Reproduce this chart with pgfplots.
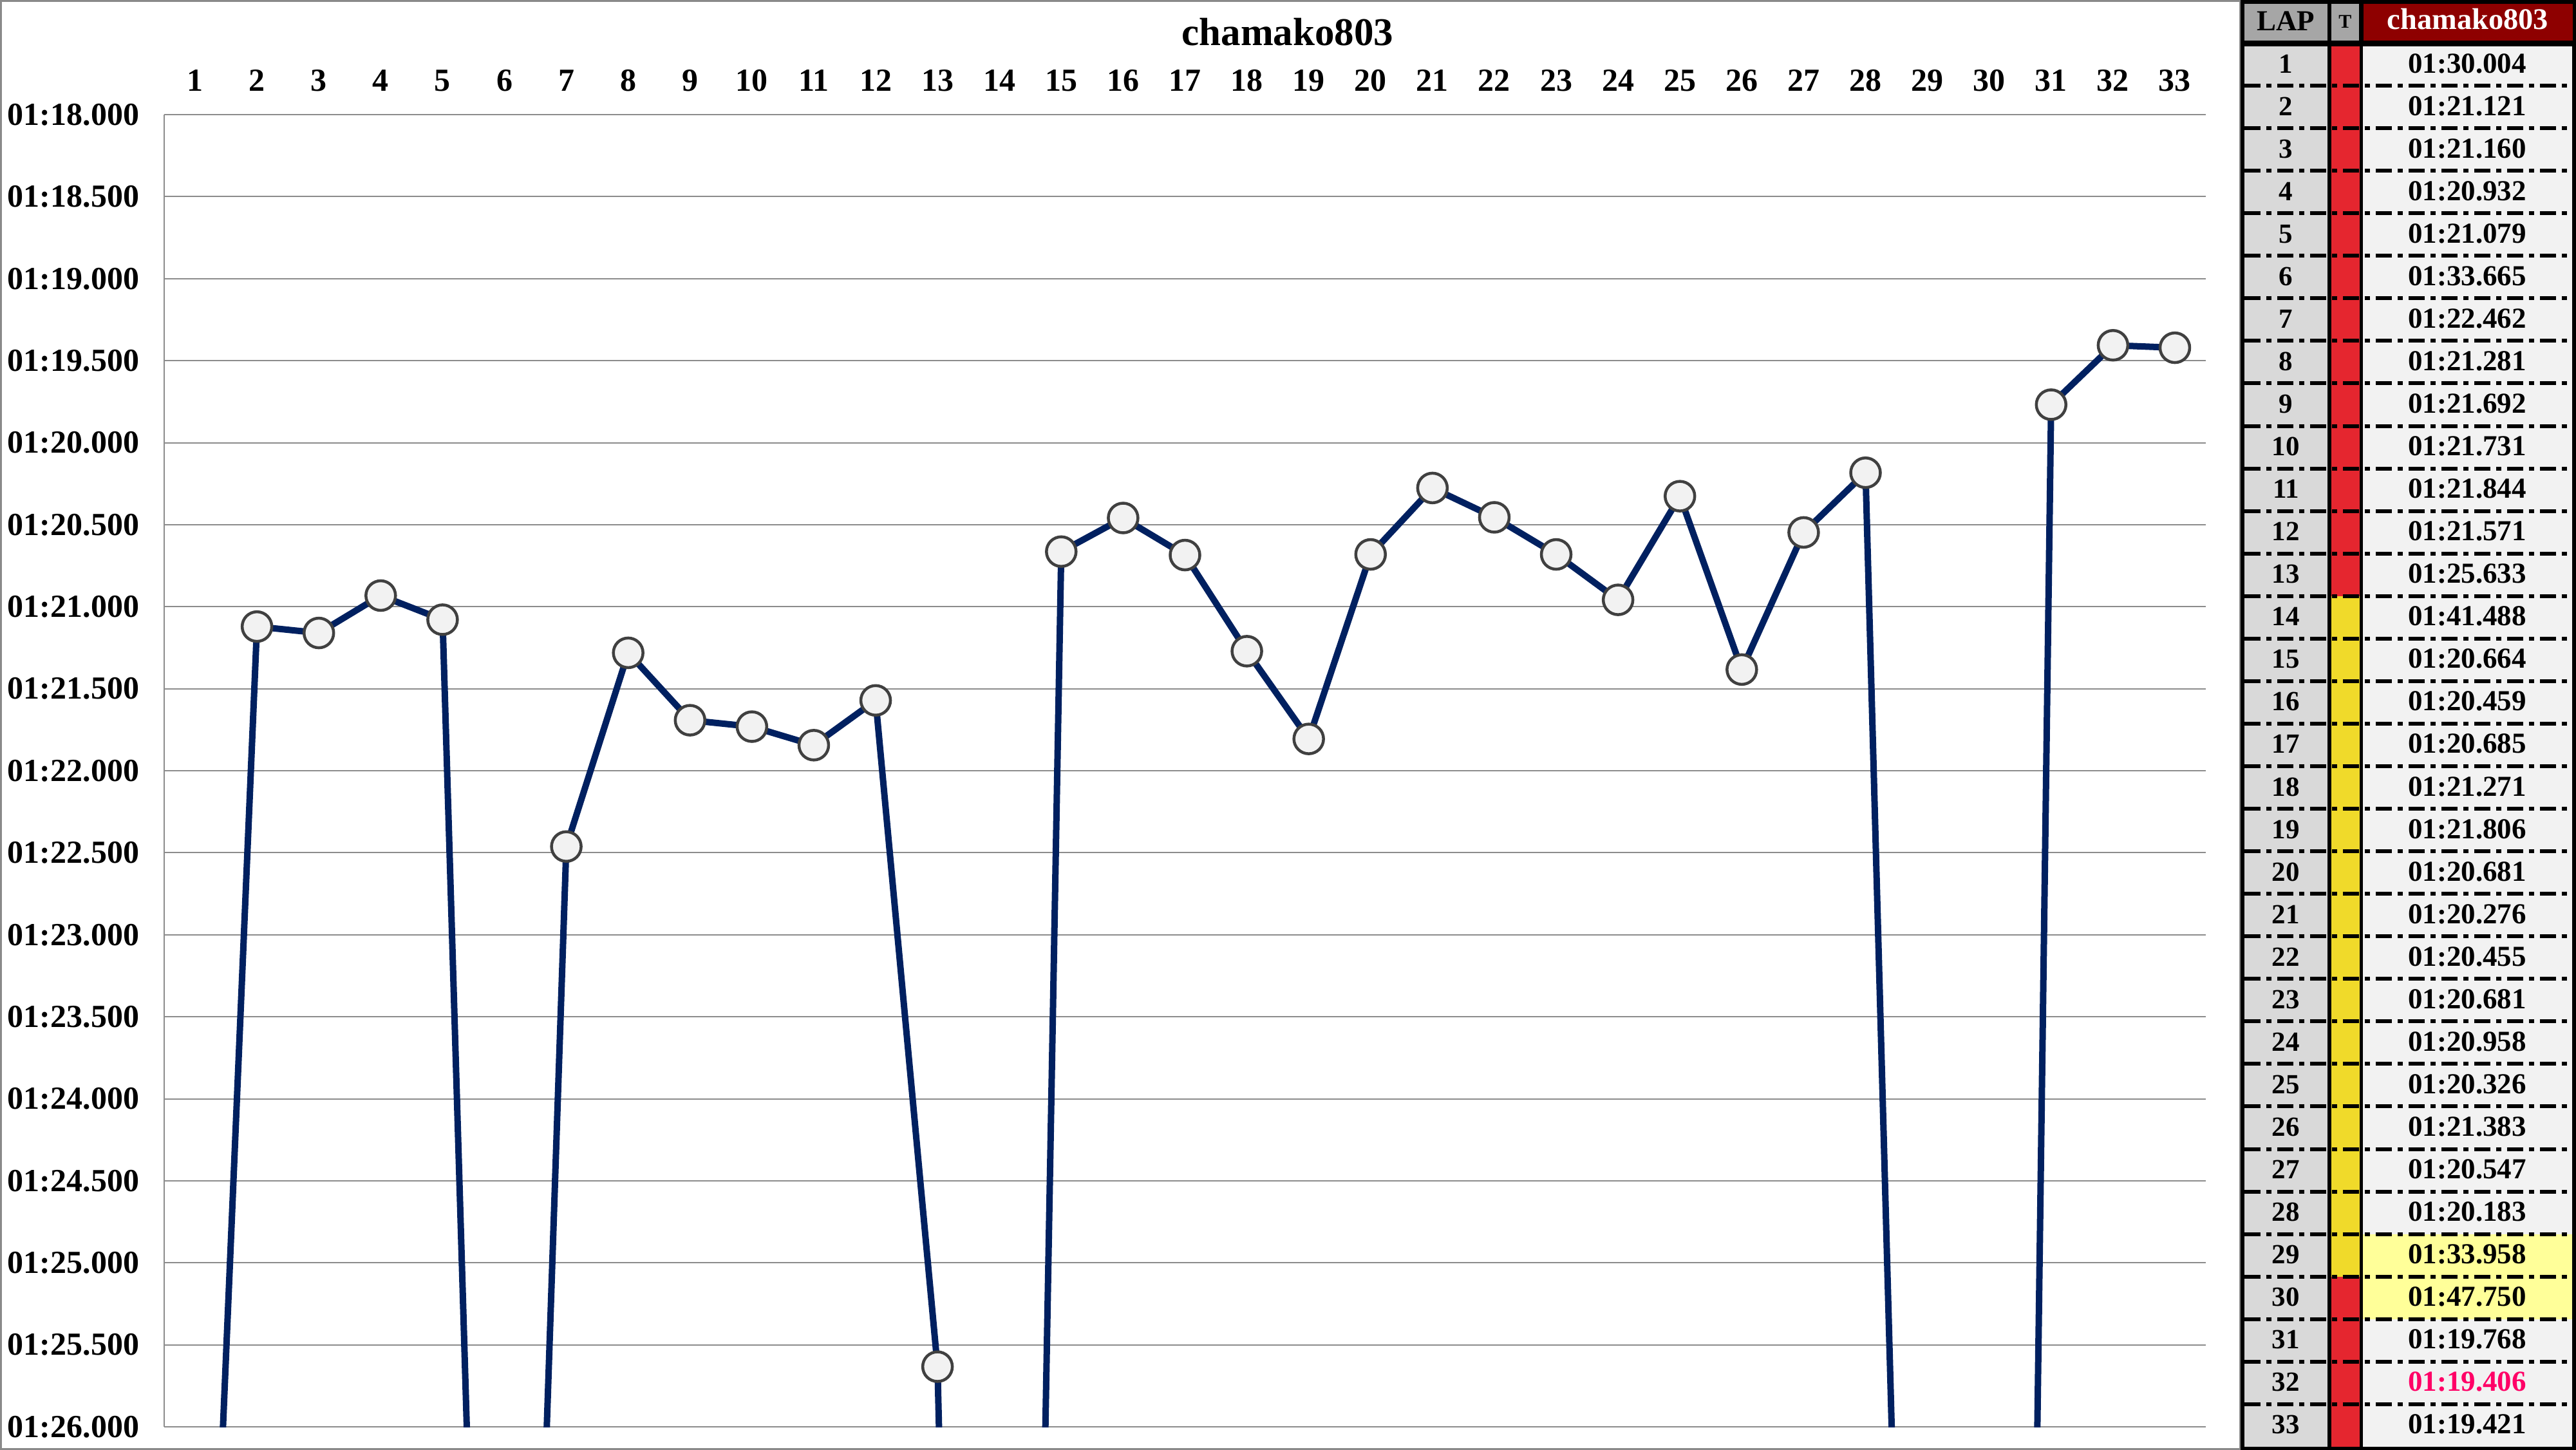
\documentclass[border=0pt]{standalone}
\usepackage{fontspec}
\setmainfont{Liberation Serif}
\usepackage{pgfplots}
\pgfplotsset{compat=1.18}

\definecolor{navy}{HTML}{002060}
\definecolor{markedge}{HTML}{404040}
\definecolor{markfill}{HTML}{F2F2F2}
\definecolor{gridgray}{HTML}{8C8C8C}
\definecolor{chartborder}{HTML}{8A8A8A}
\definecolor{hdrgray}{HTML}{A6A6A6}
\definecolor{hdrred}{HTML}{8E0000}
\definecolor{lapcell}{HTML}{D9D9D9}
\definecolor{namecell}{HTML}{F2F2F2}
\definecolor{tred}{HTML}{E5262F}
\definecolor{tyellow}{HTML}{F0DA2A}
\definecolor{hiyellow}{HTML}{FFFF99}
\definecolor{fastpink}{HTML}{FF0066}

% lap times in seconds
\pgfplotstableread{
lap  t
1    90.004
2    81.121
3    81.160
4    80.932
5    81.079
6    93.665
7    82.462
8    81.281
9    81.692
10   81.731
11   81.844
12   81.571
13   85.633
14   101.488
15   80.664
16   80.459
17   80.685
18   81.271
19   81.806
20   80.681
21   80.276
22   80.455
23   80.681
24   80.958
25   80.326
26   81.383
27   80.547
28   80.183
29   93.958
30   107.750
31   79.768
32   79.406
33   79.421
}\laps

\newcommand{\fs}[1]{\bfseries\fontsize{#1}{#1}\selectfont}

\begin{document}
\begin{tikzpicture}
\useasboundingbox (0,0) rectangle (800.2bp,-450.4bp);

% chart area (units: pixels of the reference)
\begin{scope}[x=0.2bp,y=-0.2bp]
  \fill[white] (0,0) rectangle (4001,2252);
  \draw[chartborder, line width=0.6bp] (1.5,1.5) rectangle (3480,2250.5);
  \node[font=\fs{12.2bp}, anchor=base, inner sep=0pt] at (2000,70) {chamako803};
\end{scope}

\begin{axis}[
    at={(51bp,-443.2bp)}, anchor=south west,
    scale only axis, width=634.2bp, height=407.6bp,
    xmin=0.5, xmax=33.5,
    ymin=78, ymax=86,
    y dir=reverse,
    xtick={1,...,33},
    xticklabel pos=right,
    ytick={78,78.5,...,86},
    yticklabels={01:18.000,01:18.500,01:19.000,01:19.500,01:20.000,01:20.500,
      01:21.000,01:21.500,01:22.000,01:22.500,01:23.000,01:23.500,01:24.000,
      01:24.500,01:25.000,01:25.500,01:26.000},
    /pgf/number format/assume math mode=true,
    tick label style={font=\fs{10bp}},
    xticklabel style={anchor=base, inner sep=0pt, yshift=7.4bp},
    yticklabel style={anchor=east, inner sep=0pt, xshift=-7.6bp},
    major tick length=0pt,
    axis y line*=left,
    separate axis lines,
    x axis line style={draw=none},
    y axis line style={gridgray, line width=0.4bp},
    ymajorgrids=true,
    grid style={gridgray, line width=0.4bp},
]
\addplot[navy, line width=2bp, mark=*, mark size=4.6bp,
  mark options={draw=markedge, fill=markfill, line width=0.9bp}]
  table[x=lap, y=t] {\laps};
\end{axis}

% lap table on the right
\begin{scope}[x=0.2bp,y=-0.2bp]
  \fill[black] (3480,0) rectangle (4001,2252);
  \fill[hdrgray] (3486,6) rectangle (3615,63);
  \fill[hdrgray] (3621,6) rectangle (3664,63);
  \fill[hdrred] (3671,6) rectangle (3996,63);
  \node[font=\fs{9bp}, anchor=base, inner sep=0pt] at (3550.5,47) {LAP};
  \node[font=\fs{6bp}, anchor=base, inner sep=0pt] at (3642.5,43) {T};
  \node[font=\fs{9.3bp}, text=white, anchor=base, inner sep=0pt] at (3833,45) {chamako803};

  \fill[lapcell] (3486,72) rectangle (3615,2247);
  \fill[tred] (3621,72) rectangle (3665,925.8);
  \fill[tyellow] (3621,925.8) rectangle (3665,1982.7);
  \fill[tred] (3621,1982.7) rectangle (3665,2247);
  \fill[namecell] (3670,72) rectangle (3995,2247);
  \fill[hiyellow] (3670,1916.7) rectangle (3995,2048.8);

  \foreach \k in {1,...,32}
    \draw[black, line width=1.2bp, dash pattern=on 5bp off 1.8bp on 1.6bp off 1.8bp]
      (3486,{67+66.06*\k}) -- (3995,{67+66.06*\k});

  \foreach \t/\c [count=\k] in {
      01:30.004/black,01:21.121/black,01:21.160/black,01:20.932/black,
      01:21.079/black,01:33.665/black,01:22.462/black,01:21.281/black,
      01:21.692/black,01:21.731/black,01:21.844/black,01:21.571/black,
      01:25.633/black,01:41.488/black,01:20.664/black,01:20.459/black,
      01:20.685/black,01:21.271/black,01:21.806/black,01:20.681/black,
      01:20.276/black,01:20.455/black,01:20.681/black,01:20.958/black,
      01:20.326/black,01:21.383/black,01:20.547/black,01:20.183/black,
      01:33.958/black,01:47.750/black,01:19.768/black,01:19.406/fastpink,
      01:19.421/black} {
    \node[font=\fs{8.6bp}, anchor=base, inner sep=0pt] at (3550.5,{67+66.06*(\k-1)+46}) {\k};
    \node[font=\fs{9bp}, text=\c, anchor=base, inner sep=0pt] at (3832,{67+66.06*(\k-1)+46}) {\t};
  }
\end{scope}
\end{tikzpicture}
\end{document}
